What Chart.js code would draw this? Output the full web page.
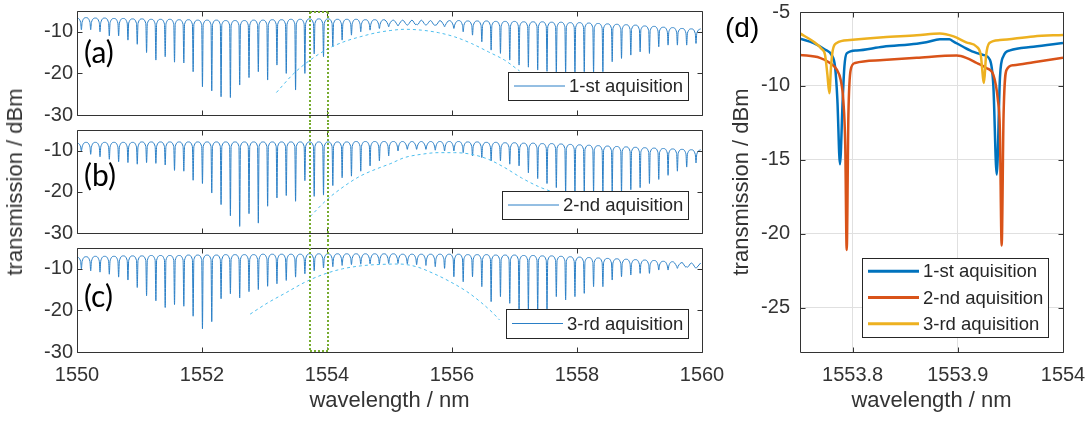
<!DOCTYPE html>
<html lang="en">
<head>
<meta charset="UTF-8">
<title>Transmission spectra</title>
<script src="https://cdn.jsdelivr.net/npm/chart.js"></script>
<style>
    body { margin: 0; background: #fff; }
    #page { position: relative; width: 1092px; height: 421px; overflow: hidden; font-family: 'Liberation Sans', Arial, sans-serif; }
    canvas { position: absolute; }
    #cA { left: 0; top: 0; }
    #cB { left: 0; top: 123px; }
    #cC { left: 0; top: 240px; }
    #cD { left: 720px; top: 0; }
    .tag { position: absolute; font-family: Lato, 'Open Sans', sans-serif; font-size: 30px; line-height: 1; color: #000; }
    #ytitle { position: absolute; left: 15.4px; top: 181.5px; transform: translate(-50%, -50%) rotate(-90deg);
              font-size: 22px; line-height: 1; white-space: nowrap; color: #333; }
</style>
</head>
<body>
<div id="page">
    <canvas id="cA" width="740" height="123"></canvas>
    <canvas id="cB" width="740" height="117"></canvas>
    <canvas id="cC" width="740" height="181"></canvas>
    <canvas id="cD" width="372" height="421"></canvas>
    <div id="ytitle">transmission / dBm</div>
    <div class="tag" style="left:84px;top:36px">(a)</div>
    <div class="tag" style="left:84px;top:159px">(b)</div>
    <div class="tag" style="left:84px;top:280px">(c)</div>
    <div class="tag" style="left:725px;top:14px;font-family:'Liberation Sans',Arial,sans-serif;font-size:28px">(d)</div>
</div>

<script>
    // ---- data ----
    const xTicksMain = [1550, 1552, 1554, 1556, 1558, 1560];
    const yTicksMain = [-30, -20, -10];
    const xTicksZoom = [1553.8, 1553.9, 1554];
    const yTicksZoom = [-25, -20, -15, -10, -5];

    const labels = ['1-st aquisition', '2-nd aquisition', '3-rd aquisition'];

    // comb of resonances: first dip and free spectral range (nm)
    const dipStart = 1550.07;
    const fsr = 0.149;
    const rippleDb = 1.1;
    const dipHalfWidth = 0.012;

    // dip minima (dBm), one per resonance
    const dipsA = [
        -9.5, -9.5, -10.0, -11.0, -11.0, -12.0, -13.0, -15.0, -16.8, -16.0,
        -17.3, -17.5, -19.6, -23.2, -24.2, -25.6, -25.8, -22.8, -21.0, -19.6,
        -21.6, -18.0, -20.0, -24.0, -20.0, -15.3, -16.0, -13.6, -12.0, -10.8,
        -10.0, -9.6, -9.2, -8.8, -8.6, -8.4, -8.2, -8.4, -8.4, -8.8,
        -9.2, -10.0, -10.8, -12.4, -14.4, -15.2, -16.8, -18.0, -18.5, -19.2,
        -19.5, -20.0, -20.0, -20.0, -19.6, -20.0, -19.6, -17.2, -16.4, -15.6,
        -14.8, -15.2, -13.6, -13.2, -13.2, -13.2, -12.8
    ];
    const dipsB = [
        -10.1, -10.9, -11.5, -12.1, -12.7, -12.9, -13.3, -12.9, -13.1, -13.5,
        -14.8, -15.0, -17.2, -18.0, -20.3, -23.1, -25.8, -28.4, -25.3, -27.6,
        -23.5, -21.5, -20.9, -22.3, -17.3, -21.1, -20.8, -18.5, -16.6, -16.2,
        -15.0, -13.7, -12.5, -11.3, -10.1, -9.7, -9.7, -9.7, -9.9, -10.1,
        -10.1, -10.5, -11.3, -11.7, -12.5, -12.5, -13.3, -13.7, -15.4, -16.8,
        -18.0, -19.0, -20.3, -20.3, -20.3, -20.3, -20.3, -20.3, -20.3, -19.5,
        -19.0, -18.0, -17.0, -16.0, -15.0, -14.0, -13.0
    ];
    const dipsC = [
        -10.0, -10.5, -10.8, -11.3, -12.0, -12.7, -14.5, -16.5, -17.7, -19.3,
        -18.6, -19.0, -21.4, -24.4, -22.7, -17.2, -16.0, -17.0, -15.5, -15.0,
        -14.2, -13.6, -12.8, -12.0, -11.2, -10.5, -9.8, -9.5, -9.2, -9.0,
        -8.9, -8.8, -8.8, -8.7, -8.7, -8.8, -9.0, -9.2, -9.5, -9.9,
        -11.9, -13.1, -11.9, -14.3, -17.9, -16.7, -18.3, -20.0, -20.3, -20.3,
        -20.0, -16.7, -17.5, -16.7, -15.9, -14.3, -14.3, -12.7, -11.9, -11.5,
        -11.1, -11.1, -10.3, -10.3, -9.9, -9.5, -9.9
    ];

    // top of the ripple before each dip (dBm)
    const topsA = [
        -6.6, -6.6, -6.7, -6.7, -6.8, -6.8, -6.9, -6.9, -7.0, -7.0,
        -7.0, -7.1, -7.1, -7.2, -7.2, -7.2, -7.3, -7.3, -7.3, -7.2,
        -7.2, -7.1, -7.1, -7.0, -7.0, -6.9, -6.9, -6.9, -7.0, -7.0,
        -7.0, -7.1, -7.1, -7.1, -7.2, -7.2, -7.2, -7.2, -7.3, -7.3,
        -7.3, -7.3, -7.4, -7.4, -7.4, -7.5, -7.5, -7.5, -7.6, -7.6,
        -7.6, -7.7, -7.7, -7.8, -7.8, -7.9, -8.0, -8.1, -8.2, -8.3,
        -8.4, -8.6, -8.7, -8.9, -9.0, -9.2, -9.3
    ];
    const topsB = [
        -8.0, -8.0, -8.0, -8.0, -8.0, -8.0, -8.0, -7.9, -7.9, -7.9,
        -7.9, -7.9, -7.9, -7.9, -7.9, -7.9, -7.9, -7.9, -7.9, -7.9,
        -7.9, -7.9, -7.9, -7.9, -7.9, -7.9, -7.9, -7.9, -7.9, -7.9,
        -7.8, -7.8, -7.8, -7.8, -7.8, -7.8, -7.8, -7.8, -7.8, -7.8,
        -7.8, -7.8, -7.9, -7.9, -8.0, -8.0, -8.1, -8.1, -8.2, -8.2,
        -8.3, -8.3, -8.4, -8.5, -8.6, -8.7, -8.8, -8.9, -9.0, -9.1,
        -9.2, -9.3, -9.4, -9.5, -9.6, -9.7, -9.8
    ];
    const topsC = [
        -7.1, -7.1, -7.0, -7.0, -7.0, -6.9, -6.9, -6.9, -6.8, -6.8,
        -6.8, -6.8, -6.7, -6.7, -6.7, -6.7, -6.6, -6.6, -6.6, -6.6,
        -6.5, -6.5, -6.5, -6.5, -6.5, -6.4, -6.4, -6.4, -6.4, -6.4,
        -6.4, -6.4, -6.4, -6.4, -6.4, -6.5, -6.5, -6.5, -6.5, -6.5,
        -6.5, -6.5, -6.6, -6.6, -6.6, -6.7, -6.7, -6.7, -6.8, -6.8,
        -6.9, -6.9, -7.0, -7.1, -7.2, -7.3, -7.4, -7.5, -7.6, -7.7,
        -7.8, -7.9, -8.0, -8.2, -8.3, -8.5, -8.6
    ];

    // dashed envelope arcs
    const arcWlA = [1553.19, 1553.47, 1553.73, 1554.00, 1554.27, 1554.53, 1554.80, 1555.01, 1555.24, 1555.51, 1555.78, 1556.04, 1556.31, 1556.58, 1556.84, 1557.08];
    const arcA   = [-24.6, -20.0, -16.8, -14.2, -12.4, -11.2, -10.2, -9.7, -9.4, -9.6, -10.2, -11.2, -12.8, -14.8, -16.8, -19.4];
    const arcWlB = [1553.73, 1554.00, 1554.27, 1554.53, 1554.80, 1555.01, 1555.24, 1555.51, 1555.78, 1556.04, 1556.31, 1556.58, 1556.84, 1557.11, 1557.38, 1557.60];
    const arcB   = [-26.0, -21.9, -18.7, -16.2, -14.4, -13.2, -11.7, -10.9, -10.5, -10.5, -10.9, -12.1, -14.1, -16.6, -18.7, -20.0];
    const arcWlC = [1552.77, 1553.05, 1553.35, 1553.65, 1553.95, 1554.25, 1554.60, 1554.95, 1555.15, 1555.43, 1555.70, 1555.97, 1556.24, 1556.45, 1556.66, 1556.76];
    const arcC   = [-20.9, -18.2, -15.7, -13.2, -11.3, -10.0, -9.2, -8.9, -8.85, -9.5, -11.1, -13.1, -15.5, -17.9, -20.7, -22.3];

    // zoomed window (d)
    const zoomWl1 = [1553.750, 1553.763, 1553.774, 1553.780, 1553.7833, 1553.7855, 1553.788, 1553.7906, 1553.7922, 1553.7944, 1553.804, 1553.829, 1553.861, 1553.870, 1553.883, 1553.892, 1553.896, 1553.905, 1553.915, 1553.924, 1553.9306, 1553.9338, 1553.937, 1553.9401, 1553.9433, 1553.9496, 1553.972, 1554.000];
    const zoomT1  = [-6.8, -7.1, -7.55, -7.9, -8.7, -10.9, -15.3, -10.9, -8.7, -7.8, -7.6, -7.35, -7.15, -7.05, -6.85, -6.85, -7.0, -7.35, -7.7, -7.9, -8.25, -10.0, -16.0, -9.4, -8.0, -7.6, -7.35, -7.1];
    const zoomWl2 = [1553.750, 1553.769, 1553.7785, 1553.785, 1553.7887, 1553.7912, 1553.7930, 1553.7944, 1553.7960, 1553.7982, 1553.8023, 1553.829, 1553.861, 1553.899, 1553.908, 1553.918, 1553.9275, 1553.9338, 1553.9380, 1553.9400, 1553.9417, 1553.9435, 1553.9465, 1553.9528, 1553.972, 1554.000];
    const zoomT2  = [-7.9, -8.1, -8.45, -8.9, -9.6, -11.0, -14.0, -21.1, -12.0, -8.9, -8.45, -8.25, -8.1, -7.95, -8.1, -8.45, -8.8, -9.25, -10.9, -13.0, -20.8, -12.0, -8.9, -8.6, -8.4, -8.1];
    const zoomWl3 = [1553.750, 1553.7627, 1553.7706, 1553.7738, 1553.776, 1553.7779, 1553.7795, 1553.7811, 1553.7849, 1553.7975, 1553.829, 1553.861, 1553.883, 1553.896, 1553.908, 1553.918, 1553.9218, 1553.9249, 1553.9268, 1553.930, 1553.940, 1553.972, 1554.000];
    const zoomT3  = [-6.45, -7.0, -7.5, -7.9, -9.2, -10.5, -8.7, -7.6, -7.1, -6.9, -6.7, -6.58, -6.45, -6.65, -7.05, -7.35, -7.9, -9.8, -8.0, -7.1, -6.9, -6.65, -6.55];

    // zoom window marked on (a)-(c)
    const boxLo = 1553.725, boxHi = 1554.015;

    // ---- styling ----
    const specColor = '#2a7fc6';
    const arcColor = '#4dbeee';
    const zoomColors = ['#0072bd', '#d95319', '#edb120'];
    const axisColor = '#333';
    const legendFont = "18.5px 'Liberation Sans', Arial, sans-serif";

    Chart.defaults.font.family = "'Liberation Sans', Arial, sans-serif";
    Chart.defaults.font.size = 20;
    Chart.defaults.color = axisColor;

    function comb(dips, tops) {
        const pts = [];
        dips.forEach((d, i) => {
            const c = dipStart + i * fsr;
            pts.push({ x: c - fsr / 2, y: tops[i] });
            pts.push({ x: c - dipHalfWidth, y: tops[i] - rippleDb });
            pts.push({ x: c, y: d });
            pts.push({ x: c + dipHalfWidth, y: tops[i] - rippleDb });
        });
        const last = dips.length - 1;
        pts.push({ x: dipStart + last * fsr + fsr / 2, y: tops[last] });
        return pts;
    }
    const pairs = (xs, ys) => xs.map((x, i) => ({ x: x, y: ys[i] }));

    // axes box, inward ticks and an in-axes legend
    const framePlugin = {
        id: 'frame',
        afterDatasetsDraw(chart, args, o) {
            const { ctx, chartArea: a, scales } = chart;
            const L = Math.round(a.left) + 0.5, R = Math.round(a.right) + 0.5;
            const T = Math.round(a.top) + 0.5, B = Math.round(a.bottom) + 0.5;
            ctx.save();
            ctx.strokeStyle = axisColor;
            ctx.lineWidth = 1;
            ctx.beginPath();
            ctx.rect(L, T, R - L, B - T);
            scales.x.ticks.forEach(t => {
                const px = Math.round(scales.x.getPixelForValue(t.value)) + 0.5;
                ctx.moveTo(px, B); ctx.lineTo(px, B - 5);
                ctx.moveTo(px, T); ctx.lineTo(px, T + 5);
            });
            scales.y.ticks.forEach(t => {
                const py = Math.round(scales.y.getPixelForValue(t.value)) + 0.5;
                ctx.moveTo(L, py); ctx.lineTo(L + 5, py);
                ctx.moveTo(R, py); ctx.lineTo(R - 5, py);
            });
            ctx.stroke();

            // legend box
            const items = o.items || [];
            if (items.length) {
                ctx.font = legendFont;
                const tw = Math.max(...items.map(it => ctx.measureText(it.label).width));
                const w = Math.round(tw + 66), h = o.height;
                const left = Math.round(a.right - o.right - w), top = Math.round(a.bottom - o.bottom - h);
                ctx.fillStyle = '#fff';
                ctx.fillRect(left, top, w, h);
                ctx.strokeStyle = '#262626';
                ctx.strokeRect(left + 0.5, top + 0.5, w, h);
                ctx.textBaseline = 'middle';
                ctx.textAlign = 'left';
                items.forEach((it, k) => {
                    const cy = top + h / items.length * (k + 0.5);
                    ctx.strokeStyle = it.color;
                    ctx.lineWidth = it.width;
                    ctx.beginPath();
                    ctx.moveTo(left + 6, cy); ctx.lineTo(left + 57, cy);
                    ctx.stroke();
                    ctx.fillStyle = '#262626';
                    ctx.fillText(it.label, left + 61, cy + 1);
                });
            }
            ctx.restore();
        }
    };

    // green dotted window spanning panels (a)-(c)
    const zoomBoxPlugin = {
        id: 'zoomBox',
        afterDraw(chart, args, o) {
            const { ctx, chartArea: a, scales: { x } } = chart;
            const x1 = Math.round(x.getPixelForValue(boxLo)), x2 = Math.round(x.getPixelForValue(boxHi));
            const y1 = o.top ? a.top + 1 : 0;
            const y2 = o.bottom ? a.bottom - 1 : chart.height;
            ctx.save();
            ctx.strokeStyle = '#77ac30';
            ctx.lineWidth = 2;
            ctx.setLineDash([2, 2]);
            ctx.beginPath();
            ctx.moveTo(x1, y1); ctx.lineTo(x1, y2);
            ctx.moveTo(x2, y1); ctx.lineTo(x2, y2);
            if (o.top) { ctx.moveTo(x1, y1); ctx.lineTo(x2, y1); }
            if (o.bottom) { ctx.moveTo(x1, y2); ctx.lineTo(x2, y2); }
            ctx.stroke();
            ctx.restore();
        }
    };

    function makeChart(id, p) {
        return new Chart(document.getElementById(id), {
            type: 'line',
            data: { datasets: p.datasets },
            options: {
                responsive: false,
                animation: false,
                events: [],
                layout: { autoPadding: false, padding: { top: p.padTop, right: p.padRight, bottom: 0, left: 0 } },
                elements: { point: { radius: 0 }, line: { cubicInterpolationMode: 'monotone' } },
                plugins: {
                    legend: { display: false },
                    tooltip: { enabled: false },
                    frame: { items: p.legendItems, height: p.legendH, right: p.legendR, bottom: p.legendB },
                    zoomBox: p.zoomBox || {}
                },
                scales: {
                    x: {
                        type: 'linear', min: p.xMin, max: p.xMax,
                        afterBuildTicks: s => { s.ticks = p.xTicks.map(v => ({ value: v })); },
                        afterFit: s => { s.height = p.xHeight; s.paddingLeft = 0; s.paddingRight = 0; },
                        grid: { display: !!p.grid, drawTicks: false, color: '#e0e0e0' },
                        border: { display: false },
                        ticks: { display: !!p.xLabels, padding: 11, maxRotation: 0, autoSkip: false, callback: v => String(v) },
                        title: { display: !!p.xTitle, text: p.xTitle || '', font: { size: 22 }, padding: { top: 0, bottom: 7 } }
                    },
                    y: {
                        min: p.yMin, max: p.yMax,
                        afterBuildTicks: s => { s.ticks = p.yTicks.map(v => ({ value: v })); },
                        afterFit: s => { s.width = p.yWidth; s.paddingTop = 0; s.paddingBottom = 0; },
                        grid: { display: !!p.grid, drawTicks: false, color: '#e0e0e0' },
                        border: { display: false },
                        ticks: { padding: p.yPad, autoSkip: false, callback: v => String(v) },
                        title: { display: !!p.yTitle, text: p.yTitle || '', font: { size: 22 }, padding: { top: 9, bottom: 0 } }
                    }
                }
            },
            plugins: p.zoomBox ? [framePlugin, zoomBoxPlugin] : [framePlugin]
        });
    }

    const arcStyle = { borderColor: arcColor, borderWidth: 1, borderDash: [3, 3], fill: false };
    const specStyle = { borderColor: specColor, borderWidth: 1, fill: false };

    const panels = [
        { id: 'cA', dips: dipsA, tops: topsA, arcX: arcWlA, arcY: arcA, label: labels[0], padTop: 11, xHeight: 8, legendH: 28, legendB: 15, zoomBox: { top: true, bottom: false } },
        { id: 'cB', dips: dipsB, tops: topsB, arcX: arcWlB, arcY: arcB, label: labels[1], padTop: 7, xHeight: 7, legendH: 28, legendB: 14, zoomBox: { top: false, bottom: false } },
        { id: 'cC', dips: dipsC, tops: topsC, arcX: arcWlC, arcY: arcC, label: labels[2], padTop: 8, xHeight: 69, legendH: 29, legendB: 14, zoomBox: { top: false, bottom: true }, xLabels: true, xTitle: 'wavelength / nm' }
    ];

    panels.forEach(pn => {
        makeChart(pn.id, {
            datasets: [
                Object.assign({ data: pairs(pn.arcX, pn.arcY) }, arcStyle),
                Object.assign({ data: comb(pn.dips, pn.tops) }, specStyle)
            ],
            padTop: pn.padTop, padRight: 38,
            xMin: 1550, xMax: 1560, xTicks: xTicksMain, xHeight: pn.xHeight,
            xLabels: pn.xLabels, xTitle: pn.xTitle,
            yMin: -30, yMax: -5, yTicks: yTicksMain, yWidth: 77, yPad: 4,
            legendItems: [{ label: pn.label, color: specColor, width: 1 }],
            legendH: pn.legendH, legendR: 14, legendB: pn.legendB,
            zoomBox: pn.zoomBox
        });
    });

    makeChart('cD', {
        datasets: [
            { data: pairs(zoomWl3, zoomT3), borderColor: zoomColors[2], borderWidth: 2.5, fill: false },
            { data: pairs(zoomWl2, zoomT2), borderColor: zoomColors[1], borderWidth: 2.5, fill: false },
            { data: pairs(zoomWl1, zoomT1), borderColor: zoomColors[0], borderWidth: 2.5, fill: false }
        ],
        padTop: 12, padRight: 29,
        xMin: 1553.75, xMax: 1554, xTicks: xTicksZoom, xHeight: 69,
        xLabels: true, xTitle: 'wavelength / nm',
        yMin: -28, yMax: -5, yTicks: yTicksZoom, yWidth: 80, yPad: 10,
        yTitle: 'transmission / dBm',
        grid: true,
        legendItems: labels.map((l, k) => ({ label: l, color: zoomColors[k], width: 3 })),
        legendH: 79, legendR: 15, legendB: 15
    });
</script>
</body>
</html>
